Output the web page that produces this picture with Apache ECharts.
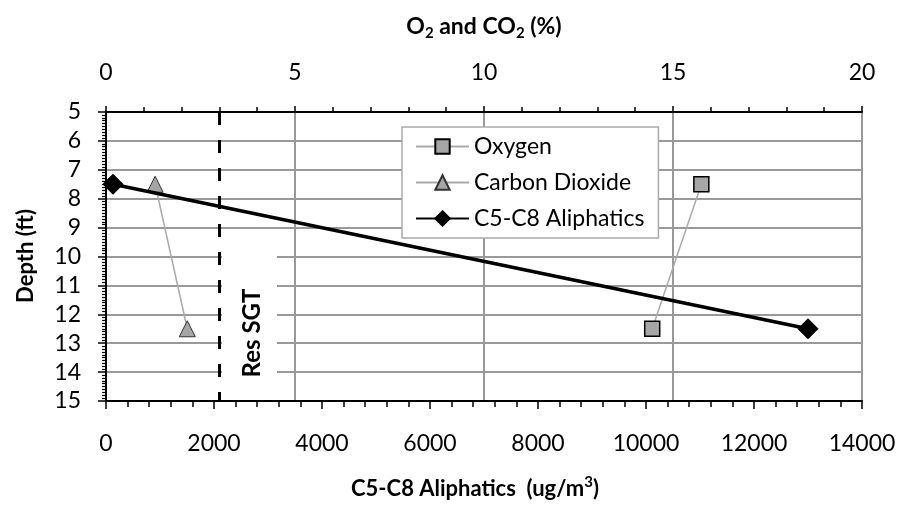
<!DOCTYPE html>
<html><head><meta charset="utf-8">
<script src="https://cdn.jsdelivr.net/npm/echarts@6/dist/echarts.min.js"></script>
<style>html,body{margin:0;padding:0;background:#fff}#c{width:900px;height:510px}</style>
</head><body><div id="c"></div>
<script>
// ---- data ----
const depth = [7.5, 12.5];
const oxygen = [15.75, 14.45];
const carbonDioxide = [1.3, 2.15];
const aliphatics = [130, 13000];
const resSGT = 2090;
const pctTicks = [0, 5, 10, 15, 20];
const ugTicks = [0, 2000, 4000, 6000, 8000, 10000, 12000, 14000];
const depthTicks = [5, 6, 7, 8, 9, 10, 11, 12, 13, 14, 15];
const seriesNames = ['Oxygen', 'Carbon Dioxide', 'C5-C8 Aliphatics'];

const FONT = 'Lato';
const pair = (xs) => xs.map((v, i) => [v, depth[i]]);

const chart = echarts.init(document.getElementById('c'), null, {renderer: 'canvas'});
const axisLine = {show: true, lineStyle: {color: '#000', width: 2}};
const labelStyle = {color: '#000', fontFamily: FONT, fontSize: 23, formatter: (v) => String(v)};

chart.setOption({
  animation: false,
  backgroundColor: '#fff',
  grid: {left: 106, right: 38, top: 112, bottom: 109, show: true, borderColor: '#000', borderWidth: 2, backgroundColor: '#fff'},
  xAxis: [
    {
      type: 'value', position: 'bottom',
      min: ugTicks[0], max: ugTicks[ugTicks.length - 1], interval: ugTicks[1] - ugTicks[0],
      axisLine: axisLine,
      axisTick: {show: true, length: 8, lineStyle: {color: '#000', width: 1.5}},
      minorTick: {show: true, splitNumber: 5, length: 6, lineStyle: {color: '#000', width: 1.5}},
      splitLine: {show: false},
      axisLabel: Object.assign({margin: 31}, labelStyle)
    },
    {
      type: 'value', position: 'top',
      min: pctTicks[0], max: pctTicks[pctTicks.length - 1], interval: pctTicks[1] - pctTicks[0],
      axisLine: axisLine,
      axisTick: {show: true, length: 6, lineStyle: {color: '#000', width: 1.5}},
      minorTick: {show: true, splitNumber: 5, length: 5, lineStyle: {color: '#000', width: 1.5}},
      splitLine: {show: true, lineStyle: {color: '#999', width: 2}},
      axisLabel: Object.assign({margin: 28}, labelStyle)
    }
  ],
  yAxis: [{
    type: 'value', inverse: true,
    min: depthTicks[0], max: depthTicks[depthTicks.length - 1], interval: depthTicks[1] - depthTicks[0],
    axisLine: axisLine,
    axisTick: {show: true, length: 8, lineStyle: {color: '#000', width: 1.5}},
    minorTick: {show: true, splitNumber: 10, length: 4, lineStyle: {color: '#000', width: 1.2}},
    splitLine: {show: true, lineStyle: {color: '#999', width: 2}},
    axisLabel: Object.assign({margin: 25}, labelStyle)
  }],
  legend: {
    orient: 'vertical', left: 402, top: 127,
    padding: [8, 14, 8, 13],
    itemWidth: 53, itemHeight: 18, itemGap: 13,
    backgroundColor: '#fff', borderColor: '#aaa', borderWidth: 1.5, borderRadius: 0,
    textStyle: {color: '#000', fontFamily: FONT, fontSize: 23},
    data: seriesNames
  },
  series: [
    {
      name: seriesNames[0], type: 'line', xAxisIndex: 1, yAxisIndex: 0,
      data: pair(oxygen),
      symbol: 'rect', symbolSize: 15,
      itemStyle: {color: '#a6a6a6', borderColor: '#000', borderWidth: 1.5},
      lineStyle: {color: '#aaa', width: 1.5},
      z: 3
    },
    {
      name: seriesNames[1], type: 'line', xAxisIndex: 1, yAxisIndex: 0,
      data: pair(carbonDioxide),
      symbol: 'triangle', symbolSize: 16,
      itemStyle: {color: '#a6a6a6', borderColor: '#333', borderWidth: 1},
      lineStyle: {color: '#aaa', width: 1.5},
      z: 3
    },
    {
      name: seriesNames[2], type: 'line', xAxisIndex: 0, yAxisIndex: 0,
      data: pair(aliphatics),
      symbol: 'diamond', symbolSize: 20,
      itemStyle: {color: '#000', borderColor: '#000', borderWidth: 1},
      lineStyle: {color: '#000', width: 3.5},
      z: 5,
      markLine: {
        silent: true, symbol: ['none', 'none'], animation: false,
        label: {show: false},
        lineStyle: {color: '#000', width: 3, type: [13, 15]},
        data: [{xAxis: resSGT}]
      }
    }
  ],
  graphic: [
    {type: 'rect', z: 10, shape: {x: 222, y: 242, width: 55, height: 157}, style: {fill: '#fff'}},
    {type: 'text', z: 11, x: 252, y: 333, rotation: Math.PI / 2,
      style: {text: 'Res SGT', fontFamily: FONT, fontWeight: 'bold', fontSize: 24, fill: '#000', align: 'center', verticalAlign: 'middle'}},
    {type: 'text', z: 11, x: 26, y: 256, rotation: Math.PI / 2,
      style: {text: 'Depth (ft)', fontFamily: FONT, fontWeight: 'bold', fontSize: 22, fill: '#000', align: 'center', verticalAlign: 'middle'}},
    {type: 'text', z: 11, x: 484, y: 27,
      style: {
        text: '{a|O}{s|2}{a| and CO}{s|2}{a| (%)}', align: 'center', verticalAlign: 'middle',
        rich: {
          a: {fontFamily: FONT, fontWeight: 'bold', fontSize: 23, lineHeight: 28, fill: '#000', color: '#000'},
          s: {fontFamily: FONT, fontWeight: 'bold', fontSize: 15, lineHeight: 15, verticalAlign: 'bottom', fill: '#000', color: '#000'}
        }
      }},
    {type: 'text', z: 11, x: 475, y: 489,
      style: {
        text: '{a|C5-C8 Aliphatics  (ug/m}{u|3}{a|)}', align: 'center', verticalAlign: 'middle',
        rich: {
          a: {fontFamily: FONT, fontWeight: 'bold', fontSize: 22, lineHeight: 28, fill: '#000', color: '#000'},
          u: {fontFamily: FONT, fontWeight: 'bold', fontSize: 15, lineHeight: 15, verticalAlign: 'top', fill: '#000', color: '#000'}
        }
      }}
  ]
});
</script>
</body></html>
